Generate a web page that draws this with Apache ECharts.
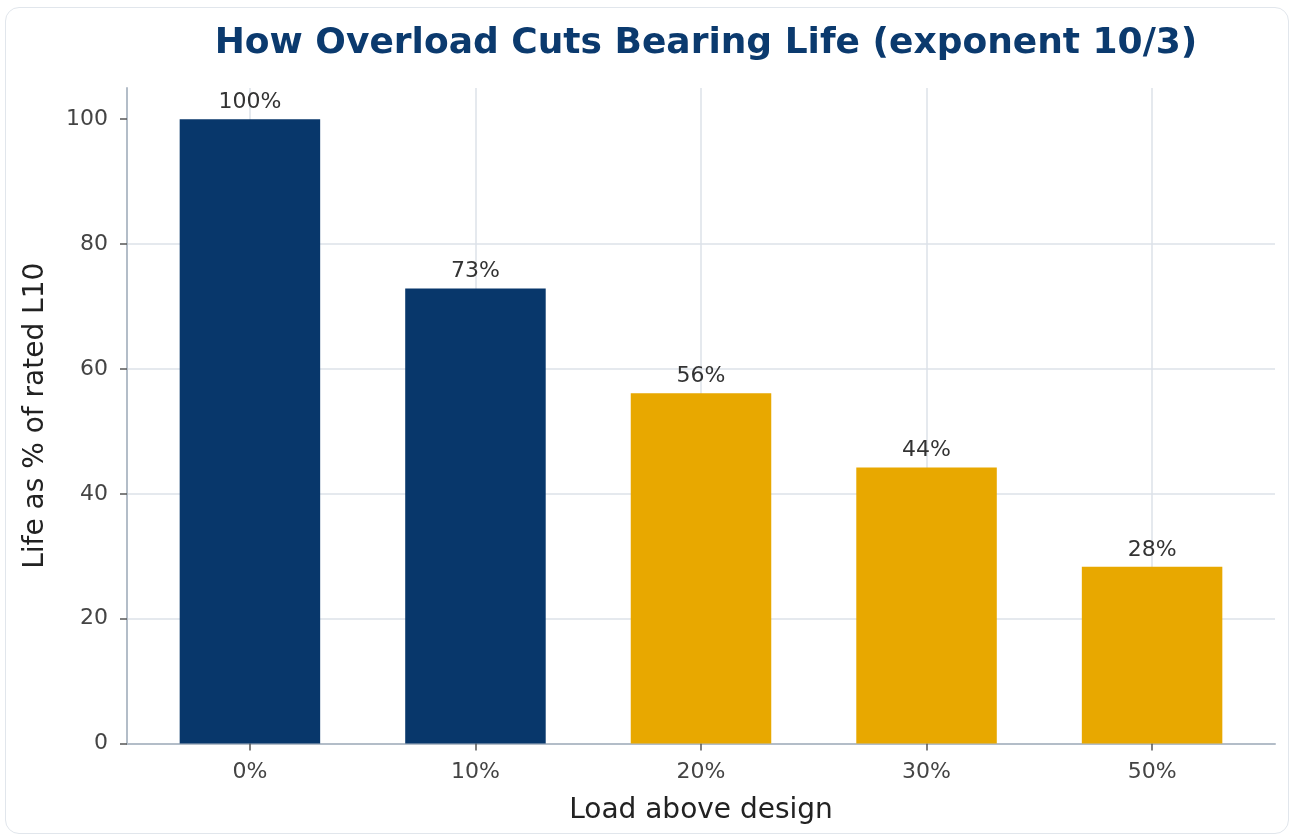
<!DOCTYPE html>
<html>
<head>
<meta charset="utf-8">
<script src="https://cdn.jsdelivr.net/npm/echarts@6/dist/echarts.min.js"></script>
<style>
html,body{margin:0;padding:0;background:#fff;}
#card{position:absolute;left:5px;top:7px;width:1284px;height:827px;border:1.5px solid #e1e6ec;border-radius:14px;box-sizing:border-box;}
#chart{position:absolute;left:0;top:0;width:1293px;height:839px;}
</style>
</head>
<body>
<div id="card"></div>
<div id="chart"></div>
<script>
const categories = ['0%', '10%', '20%', '30%', '50%'];
const lifePercent = [100, 72.9, 56.1, 44.2, 28.3];
const barColors = ['#08376b', '#08376b', '#e8a800', '#e8a800', '#e8a800'];
const yTicks = [0, 20, 40, 60, 80, 100];

const FONT = 'DejaVu Sans';
const chart = echarts.init(document.getElementById('chart'), null, {renderer: 'canvas'});

const positions = categories.map((c, i) => i);
const data = lifePercent.map((v, i) => ({
  value: [i, v],
  itemStyle: {
    color: barColors[i],
    borderColor: barColors[i],
    borderWidth: barColors[i] === '#e8a800' ? 2.5 : 0
  }
}));

chart.setOption({
  animation: false,
  backgroundColor: 'transparent',
  title: {
    text: 'How Overload Cuts Bearing Life (exponent 10/3)',
    left: 701,
    textAlign: 'center',
    top: 21,
    textStyle: {fontFamily: FONT, fontSize: 36, fontWeight: 'bold', color: '#0b3a6e'}
  },
  grid: {left: 127, right: 18, top: 88, bottom: 95.5, containLabel: false},
  xAxis: {
    type: 'value',
    min: -0.545,
    max: 4.545,
    name: 'Load above design',
    nameLocation: 'middle',
    nameGap: 53,
    nameTextStyle: {fontFamily: FONT, fontSize: 28, color: '#222'},
    axisLine: {show: true, onZero: false, lineStyle: {color: '#b3bdc8', width: 2}},
    axisTick: {show: true, customValues: positions, length: 7, lineStyle: {color: '#555', width: 1.5}},
    axisLabel: {
      customValues: positions,
      margin: 18,
      fontFamily: FONT, fontSize: 22, color: '#444',
      formatter: v => categories[Math.round(v)]
    },
    splitLine: {show: true, lineStyle: {color: '#dde2e9', width: 1.5}}
  },
  yAxis: {
    type: 'value',
    min: 0,
    max: 105,
    name: 'Life as % of rated L10',
    nameLocation: 'middle',
    nameGap: 77,
    nameTextStyle: {fontFamily: FONT, fontSize: 28, color: '#222'},
    axisLine: {show: true, onZero: false, lineStyle: {color: '#b3bdc8', width: 2}},
    axisTick: {show: true, customValues: yTicks, length: 7, lineStyle: {color: '#555', width: 1.5}},
    axisLabel: {customValues: yTicks, margin: 19, padding: [4, 0, 0, 0], fontFamily: FONT, fontSize: 22, color: '#444'},
    splitLine: {show: true, showMinLine: false, showMaxLine: false, lineStyle: {color: '#dde2e9', width: 1.5}}
  },
  series: [{
    type: 'bar',
    barWidth: 140.5,
    data: data,
    label: {
      show: true,
      position: 'top',
      distance: 6,
      fontFamily: FONT, fontSize: 22, color: '#333',
      formatter: p => Math.round(p.value[1]) + '%'
    }
  }]
});
</script>
</body>
</html>
